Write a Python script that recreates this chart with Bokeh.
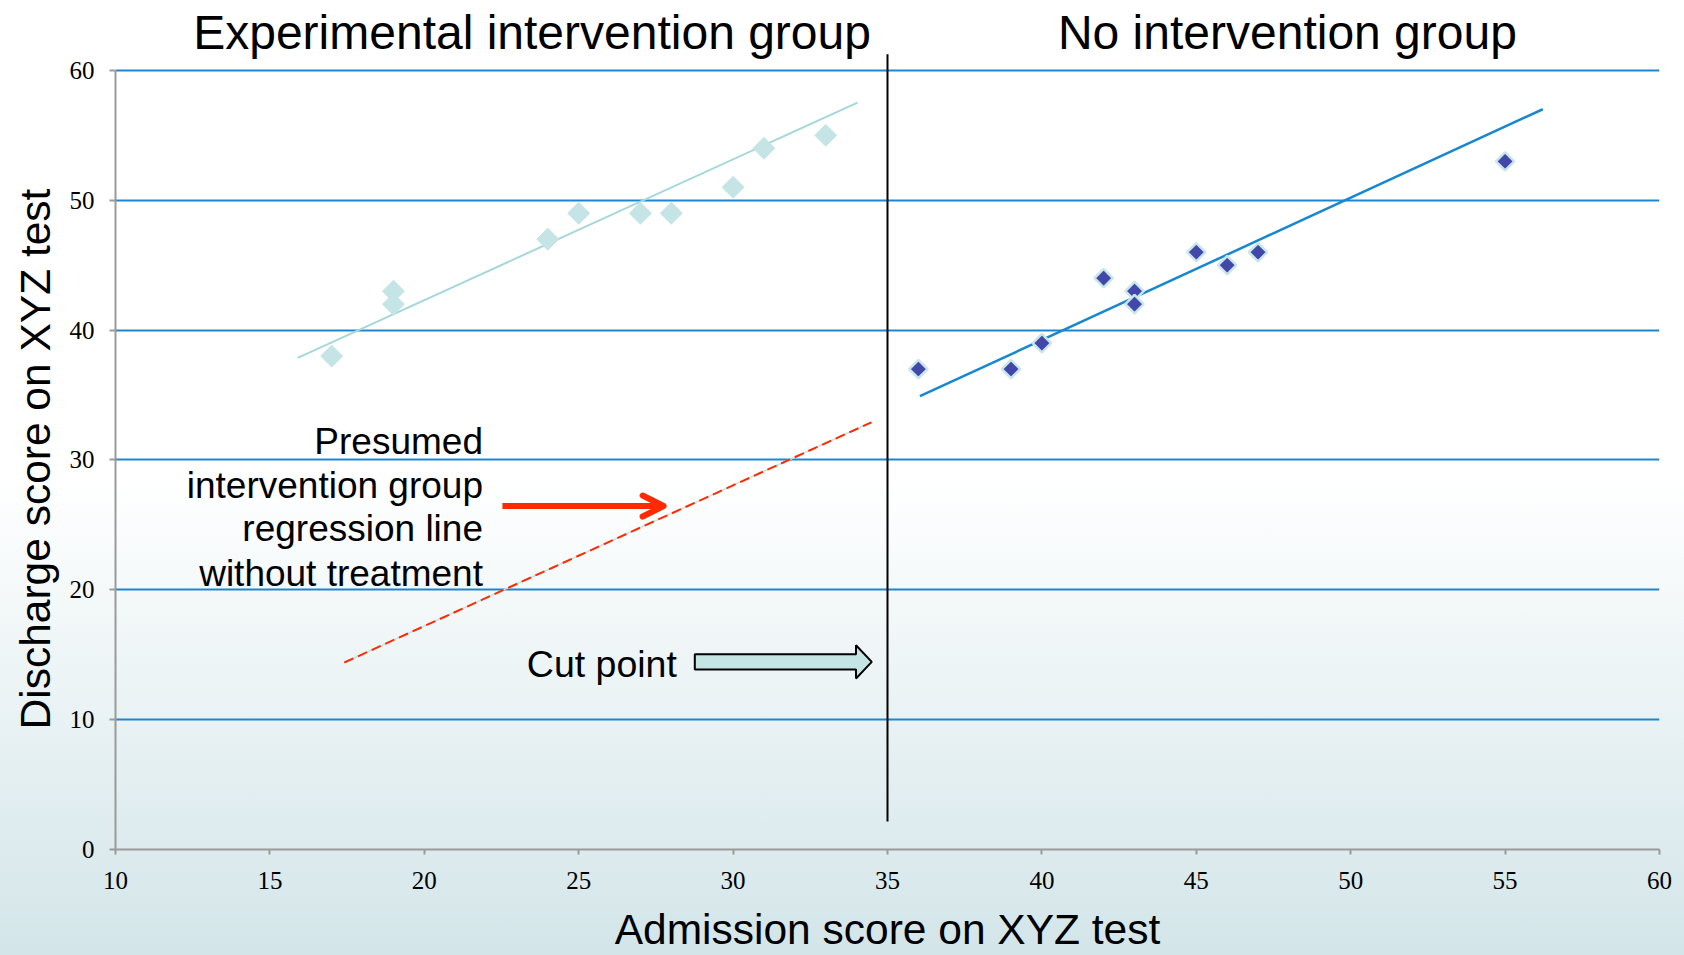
import math
from bokeh.plotting import figure
from bokeh.models import Range1d, FixedTicker, Arrow, OpenHead, Title
from bokeh.core.properties import value
from bokeh.embed import file_html
from bokeh.resources import INLINE

# ---------------- data ----------------
exp_x = [17, 19, 19, 24, 25, 27, 28, 30, 31, 33]
exp_y = [38, 43, 42, 47, 49, 49, 49, 51, 54, 55]
ctl_x = [36, 39, 40, 42, 43, 43, 45, 46, 47, 55]
ctl_y = [37, 37, 39, 44, 43, 42, 46, 45, 46, 53]

exp_fit_x = [15.9, 34.03]
exp_fit_y = [37.86, 57.52]
ctl_fit_x = [36.05, 56.22]
ctl_fit_y = [34.91, 57.01]
presumed_x = [17.41, 34.48]
presumed_y = [14.4, 32.9]

cut_point = 35
cut_line_y = [2.15, 61.24]

x_ticks = [10, 15, 20, 25, 30, 35, 40, 45, 50, 55, 60]
y_ticks = [0, 10, 20, 30, 40, 50, 60]
grid_ticks = [10, 20, 30, 40, 50, 60]

group_titles = ["Experimental intervention group", "No intervention group"]
group_title_x = [23.49, 47.95]
group_title_y = [62.95, 62.95]

note_lines = ["Presumed", "intervention group", "regression line", "without treatment"]
note_x = [21.9, 21.9, 21.9, 21.9]
note_y = [31.44, 28.06, 24.73, 21.27]

cut_label = "Cut point"
cut_label_x = 28.18
cut_label_y = 14.25
cut_arrow_tail = 28.76
cut_arrow_base = 33.98
cut_arrow_tip = 34.49
cut_arrow_y = 14.45

red_arrow_x = [22.53, 27.75]
red_arrow_y = 26.45

x_label = "Admission score on XYZ test"
y_label = "Discharge score on XYZ test"

# ---------------- layout ----------------
W, H = 1684, 955
B_LEFT, B_RIGHT, B_BOTTOM = 115, 25, 105
YPX = 13.0
Y_END = (H - B_BOTTOM) / YPX

SANS = "Liberation Sans"
SERIF = "Liberation Serif"
RED = "#FF2A00"

p = figure(width=W, height=H, output_backend="svg", toolbar_location=None,
           title=None, x_range=Range1d(10, 60), y_range=Range1d(0, Y_END),
           min_border_left=B_LEFT, min_border_right=B_RIGHT,
           min_border_bottom=B_BOTTOM, min_border_top=0)
p.background_fill_color = None
p.border_fill_color = None
p.outline_line_color = None
p.styles = {"background": "linear-gradient(to bottom, #FFFFFF 0%, #FFFFFF 50%, #D3E5E9 100%)"}

p.xgrid.visible = False
p.ygrid.ticker = FixedTicker(ticks=grid_ticks)
p.ygrid.grid_line_color = "#1C87CE"
p.ygrid.grid_line_width = 2

for ax, ticks in ((p.xaxis[0], x_ticks), (p.yaxis[0], y_ticks)):
    ax.ticker = FixedTicker(ticks=ticks)
    ax.axis_line_color = "#9A9A9A"
    ax.axis_line_width = 2
    ax.major_tick_line_color = "#9A9A9A"
    ax.major_tick_line_width = 2
    ax.major_tick_in = 0
    ax.minor_tick_line_color = None
    ax.major_label_text_font = SERIF
    ax.major_label_text_font_size = "25px"
    ax.major_label_text_color = "black"
    ax.axis_label_text_font = SANS
    ax.axis_label_text_font_size = "42.5px"
    ax.axis_label_text_font_style = "normal"
    ax.axis_label_text_color = "black"
p.yaxis[0].bounds = (0, 60)
p.yaxis[0].major_tick_out = 6
p.yaxis[0].major_label_standoff = 15
p.xaxis[0].major_tick_out = 5
p.xaxis[0].major_label_standoff = 17
p.xaxis[0].axis_label = x_label
p.xaxis[0].axis_label_standoff = 14

# y-axis title, placed along the 0-60 axis span
p.add_layout(Title(text=y_label, align="left", offset=120, standoff=15,
                   text_font=SANS, text_font_size="42.5px",
                   text_font_style="normal", text_color="black"), "left")

# presumed line (dashed red over faint cyan)
p.line(presumed_x, presumed_y, line_color="#C4E3E5", line_width=1.5)
p.line(presumed_x, presumed_y, line_color=RED, line_width=2, line_dash="10 5")

# regression lines
p.line(exp_fit_x, exp_fit_y, line_color="#A6D7DB", line_width=2)
p.line(ctl_fit_x, ctl_fit_y, line_color="#1787D0", line_width=2.5)

# points
p.scatter(exp_x, exp_y, marker="square", size=15.5, angle=math.pi / 4,
          fill_color="#C5E4E6", line_color="#C5E4E6", line_width=1)
p.scatter(ctl_x, ctl_y, marker="square", size=13, angle=math.pi / 4,
          fill_color="#4248A9", line_color="#C9E7EA", line_width=2.5)

# cut point vertical line
p.line([cut_point, cut_point], cut_line_y, line_color="black", line_width=2)

# titles
p.text(group_title_x, group_title_y, text=group_titles, text_font=value(SANS),
       text_font_size="48px", text_align="center", text_baseline="alphabetic",
       text_color="black")

# note text
p.text(note_x, note_y, text=note_lines, text_font=value(SANS),
       text_font_size="37px", text_align="right", text_baseline="alphabetic",
       text_color="black")

# red arrow
p.add_layout(Arrow(x_start=red_arrow_x[0], x_end=red_arrow_x[1],
                   y_start=red_arrow_y, y_end=red_arrow_y,
                   line_color=RED, line_width=6,
                   end=OpenHead(size=21, line_color=RED, line_width=6,
                                line_cap="round", line_join="round")))

# cut point label and block arrow
p.text([cut_label_x], [cut_label_y], text=[cut_label], text_font=value(SANS),
       text_font_size="37.5px", text_align="right", text_baseline="alphabetic",
       text_color="black")
sh = 7.7 / YPX
hh = 16.7 / YPX
ax_ = [cut_arrow_tail, cut_arrow_base, cut_arrow_base, cut_arrow_tip,
       cut_arrow_base, cut_arrow_base, cut_arrow_tail]
ay_ = [cut_arrow_y - sh, cut_arrow_y - sh, cut_arrow_y - hh, cut_arrow_y,
       cut_arrow_y + hh, cut_arrow_y + sh, cut_arrow_y + sh]
p.patch(ax_, ay_, fill_color="#C5E5E5", line_color="black", line_width=2)

open("out.html", "w").write(file_html(p, INLINE))
